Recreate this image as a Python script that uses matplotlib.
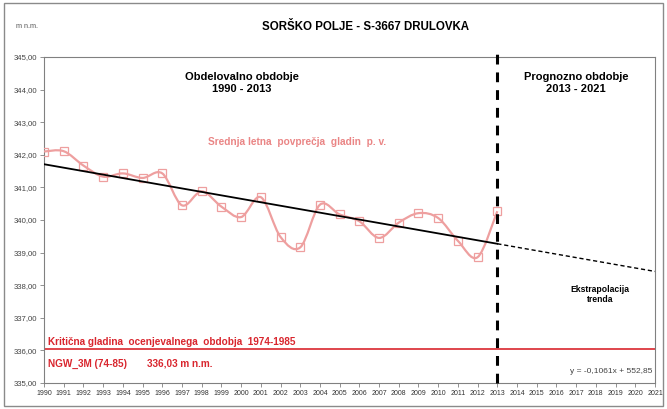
import matplotlib
matplotlib.use("Agg")
import matplotlib.pyplot as plt
from matplotlib.path import Path
from matplotlib.patches import PathPatch, Rectangle
import numpy as np

plt.rcParams['font.family'] = ['Liberation Sans', 'DejaVu Sans']

years = list(range(1990, 2014))
levels = [342.10, 342.11, 341.67, 341.33, 341.43, 341.29, 341.43, 340.45,
          340.88, 340.41, 340.09, 340.70, 339.48, 339.16, 340.47, 340.17,
          339.96, 339.45, 339.92, 340.21, 340.06, 339.36, 338.86, 340.27]
trend_slope = -0.1061
trend_intercept = 552.85
critical_level = 336.03
split_year = 2013
end_year = 2021
year_ticks = list(range(1990, 2022))
y_ticks = [335, 336, 337, 338, 339, 340, 341, 342, 343, 344, 345]
y_tick_labels = ["335,00", "336,00", "337,00", "338,00", "339,00", "340,00",
                 "341,00", "342,00", "343,00", "344,00", "345,00"]

fig = plt.figure(figsize=(6.67, 4.09), dpi=100)
fig.patches.append(Rectangle((0.006, 0.008), 0.988, 0.985, transform=fig.transFigure,
                             fill=False, edgecolor='#8a8a8a', linewidth=1.0))
ax = fig.add_axes([0.066, 0.0636, 0.916, 0.797])
ax.set_xlim(1990, 2021)
ax.set_ylim(335, 345)

# smoothed data line (Excel-like Bezier)
x = np.array(years, dtype=float)
y = np.array(levels, dtype=float)
verts = [(x[0], y[0])]
codes = [Path.MOVETO]
n = len(x)
for i in range(n - 1):
    p0 = np.array([x[max(i - 1, 0)], y[max(i - 1, 0)]])
    p1 = np.array([x[i], y[i]])
    p2 = np.array([x[i + 1], y[i + 1]])
    p3 = np.array([x[min(i + 2, n - 1)], y[min(i + 2, n - 1)]])
    c1 = p1 + (p2 - p0) / 6.0
    c2 = p2 - (p3 - p1) / 6.0
    verts += [tuple(c1), tuple(c2), tuple(p2)]
    codes += [Path.CURVE4] * 3
ax.add_patch(PathPatch(Path(verts, codes), fill=False, edgecolor='#ee9f9f',
                       linewidth=1.6, zorder=3))
ax.plot(years, levels, linestyle='none', marker='s', markersize=5.5,
        markerfacecolor='none', markeredgecolor='#ee9f9f', markeredgewidth=0.9, zorder=4)

# trend
tx = np.array([1990, split_year], dtype=float)
ax.plot(tx, trend_slope * tx + trend_intercept, color='black', linewidth=1.3, zorder=5)
ex = np.array([split_year, end_year], dtype=float)
ax.plot(ex, trend_slope * ex + trend_intercept, color='black', linewidth=1.0,
        linestyle=(0, (3, 2)), zorder=5)

# critical level
ax.axhline(critical_level, color='#d9262e', linewidth=1.2, zorder=2)

# split line
ax.plot([split_year, split_year], [335, 345.3], color='black', linewidth=2.2,
        linestyle=(0, (3.2, 2.6)), clip_on=False, zorder=6)

for s in ax.spines.values():
    s.set_color('#808080')
    s.set_linewidth(0.8)

ax.set_xticks(year_ticks)
ax.set_xticklabels([str(v) for v in year_ticks], fontsize=5.0, color='#333333')
ax.set_yticks(y_ticks)
ax.set_yticklabels(y_tick_labels, fontsize=5.6, color='#444444')
ax.tick_params(axis='both', length=3, width=0.6, color='#808080', pad=2)

fig.text(0.024, 0.934, "m n.m.", fontsize=5.2, color='#555555', va='center')
fig.text(0.548, 0.934, "SORŠKO POLJE - S-3667 DRULOVKA", fontsize=8.3,
         fontweight='bold', ha='center', va='center')

ax.text(2000.05, 344.2, "Obdelovalno obdobje\n1990 - 2013", fontsize=8.0,
        fontweight='bold', ha='center', va='center', linespacing=1.15)
ax.text(2017.0, 344.2, "Prognozno obdobje\n2013 - 2021", fontsize=8.0,
        fontweight='bold', ha='center', va='center', linespacing=1.15)
ax.text(1998.3, 342.4, "Srednja letna  povprečja  gladin  p. v.", fontsize=7.3,
        fontweight='bold', color='#ea8585', ha='left', va='center')
ax.text(2018.2, 337.72, "Ekstrapolacija\ntrenda", fontsize=6.2,
        fontweight='bold', ha='center', va='center', linespacing=1.15)
ax.text(1990.2, 336.27, "Kritična gladina  ocenjevalnega  obdobja  1974-1985",
        fontsize=7.2, fontweight='bold', color='#d9262e', ha='left', va='center')
ax.text(1990.2, 335.57, "NGW_3M (74-85)", fontsize=7.2, fontweight='bold',
        color='#d9262e', ha='left', va='center')
ax.text(1995.25, 335.6, "336,03 m n.m.", fontsize=7.2, fontweight='bold',
        color='#d9262e', ha='left', va='center')
ax.text(2020.85, 335.35, "y = -0,1061x + 552,85", fontsize=6.0, color='#444444',
        ha='right', va='center')

fig.savefig("out.png", dpi=100)
